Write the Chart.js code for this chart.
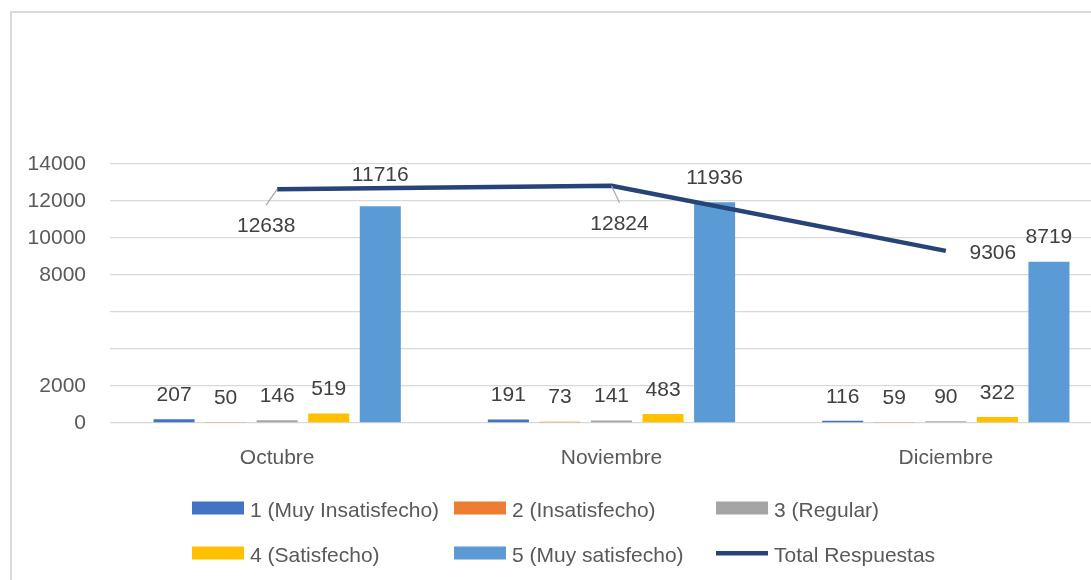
<!DOCTYPE html>
<html>
<head>
<meta charset="utf-8">
<script src="https://cdn.jsdelivr.net/npm/chart.js@4/dist/chart.umd.min.js"></script>
<style>
  html, body { margin: 0; padding: 0; background: #fff; overflow: hidden; width: 1091px; height: 580px; }
  #frame { position: absolute; left: 10px; top: 11px; border: 2px solid #d9d9d9; width: 1146px; height: 600px; }
  canvas { display: block; }
</style>
</head>
<body>
<div id="frame"><canvas id="c" width="1146" height="600"></canvas></div>
<script>
// ---- data ----
const categories = ['Octubre', 'Noviembre', 'Diciembre'];
const muyInsatisfecho = [207, 191, 116];
const insatisfecho = [50, 73, 59];
const regular = [146, 141, 90];
const satisfecho = [519, 483, 322];
const muySatisfecho = [11716, 11936, 8719];
const totalRespuestas = [12638, 12824, 9306];
const yTicksShown = [0, 2000, 8000, 10000, 12000, 14000];

const FONT = 'Liberation Sans, Arial, sans-serif';

const valueLabels = {
  id: 'valueLabels',
  afterDatasetsDraw(chart, args, opts) {
    const ctx = chart.ctx;
    ctx.save();
    ctx.font = '21px ' + FONT;
    ctx.fillStyle = '#404040';
    ctx.textAlign = 'center';
    ctx.textBaseline = 'middle';
    chart.data.datasets.forEach((ds, di) => {
      const meta = chart.getDatasetMeta(di);
      meta.data.forEach((el, i) => {
        const key = di + '-' + i;
        let dx = 0, dy = opts.barOffset;
        if (opts.overrides[key]) { dx = opts.overrides[key][0]; dy = opts.overrides[key][1]; }
        const lx = el.x + dx, ly = el.y + dy;
        if (opts.leaders.includes(key)) {
          ctx.save();
          ctx.strokeStyle = '#a6a6a6';
          ctx.lineWidth = 1.2;
          ctx.beginPath();
          ctx.moveTo(el.x, el.y);
          ctx.lineTo(lx, ly - 21);
          ctx.stroke();
          ctx.restore();
        }
        ctx.fillText(String(ds.data[i]), lx, ly);
      });
    });
    ctx.restore();
  }
};

const gridLegend = {
  id: 'gridLegend',
  afterDraw(chart, args, opts) {
    const ctx = chart.ctx;
    ctx.save();
    ctx.font = '21px ' + FONT;
    ctx.textBaseline = 'middle';
    ctx.textAlign = 'left';
    chart.data.datasets.forEach((ds, di) => {
      const col = di % 3, row = Math.floor(di / 3);
      const x = opts.left + col * opts.colWidth;
      const y = opts.top + row * opts.rowHeight;
      if (ds.type === 'line') {
        ctx.fillStyle = ds.borderColor;
        ctx.fillRect(x, y - 2, opts.boxWidth, 4.5);
      } else {
        ctx.fillStyle = ds.backgroundColor;
        ctx.fillRect(x, y - 6.5, opts.boxWidth, 13);
      }
      ctx.fillStyle = '#595959';
      ctx.fillText(ds.label, x + opts.boxWidth + 6, y + 3);
    });
    ctx.restore();
  }
};

const barCommon = { type: 'bar', order: 1, categoryPercentage: 0.771, barPercentage: 0.796 };

new Chart(document.getElementById('c'), {
  data: {
    labels: categories,
    datasets: [
      Object.assign({ label: '1 (Muy Insatisfecho)', data: muyInsatisfecho, backgroundColor: '#4472C4' }, barCommon),
      Object.assign({ label: '2 (Insatisfecho)', data: insatisfecho, backgroundColor: '#ED7D31' }, barCommon),
      Object.assign({ label: '3 (Regular)', data: regular, backgroundColor: '#A5A5A5' }, barCommon),
      Object.assign({ label: '4 (Satisfecho)', data: satisfecho, backgroundColor: '#FFC000' }, barCommon),
      Object.assign({ label: '5 (Muy satisfecho)', data: muySatisfecho, backgroundColor: '#5B9BD5' }, barCommon),
      { type: 'line', label: 'Total Respuestas', data: totalRespuestas, borderColor: '#264478', backgroundColor: '#264478',
        borderWidth: 4.5, pointRadius: 0, tension: 0, order: 0, borderCapStyle: 'butt' }
    ]
  },
  options: {
    responsive: false,
    animation: false,
    devicePixelRatio: 1,
    layout: { padding: { top: 151, right: 45, bottom: 130, left: 0 } },
    plugins: {
      legend: { display: false },
      tooltip: { enabled: false },
      valueLabels: {
        barOffset: -24,
        overrides: { '4-0': [0, -31], '5-0': [-11, 37], '5-1': [8, 38], '5-2': [47, 2] },
        leaders: ['5-0', '5-1']
      },
      gridLegend: { left: 180, top: 495, colWidth: 262, rowHeight: 45, boxWidth: 52 }
    },
    scales: {
      x: {
        grid: { display: false, drawTicks: false },
        border: { display: false },
        ticks: { font: { family: FONT, size: 21 }, color: '#595959', padding: 23 },
        afterFit(s) { s.height = 60; }
      },
      y: {
        min: 0, max: 14000,
        grid: { color: '#d9d9d9', lineWidth: 1.3, drawTicks: false },
        border: { display: false },
        ticks: {
          stepSize: 2000,
          font: { family: FONT, size: 21 }, color: '#595959', padding: 24,
          callback: (v) => yTicksShown.includes(v) ? String(v) : ''
        },
        afterFit(s) { s.width = 98; }
      }
    }
  },
  plugins: [valueLabels, gridLegend]
});
</script>
</body>
</html>
